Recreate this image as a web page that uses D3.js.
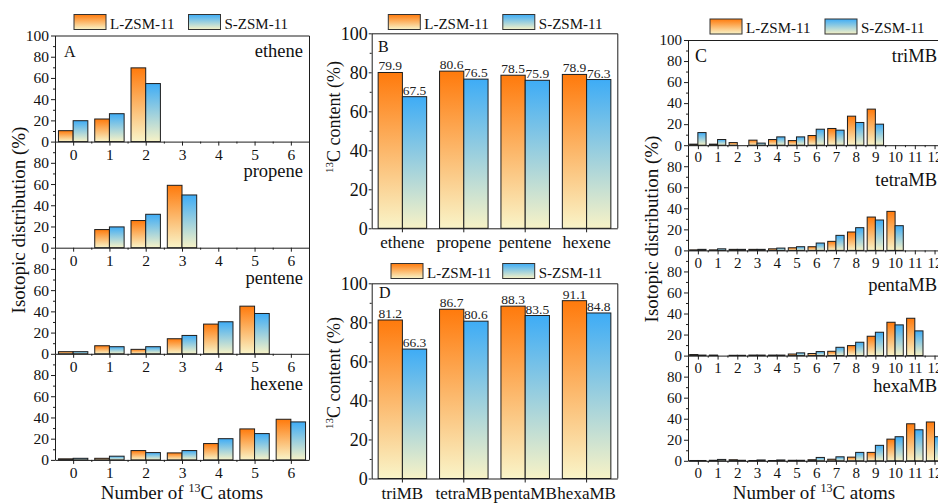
<!DOCTYPE html>
<html>
<head>
<meta charset="utf-8">
<script src="https://cdn.jsdelivr.net/npm/d3@7"></script>
<style>
  body { margin: 0; background: #fff; overflow: hidden; }
  svg { display: block; font-family: "Liberation Serif", "Times New Roman", serif; }
</style>
</head>
<body>
<svg id="fig" width="938" height="503"></svg>
<script>
// ---------- data ----------
const seriesNames = ["L-ZSM-11", "S-ZSM-11"];

// Panel A: isotopic distribution of light olefins (% vs number of 13C atoms)
const olefinNames = ["ethene", "propene", "pentene", "hexene"];
const olefinAtoms = [0, 1, 2, 3, 4, 5, 6];
const etheneL  = [10.3, 21.3, 69.5, 0, 0, 0, 0];
const etheneS  = [19.7, 26.3, 54.7, 0, 0, 0, 0];
const propeneL = [0, 17.1, 25.6, 58.8, 0, 0, 0];
const propeneS = [0, 19.6, 31.5, 49.7, 0, 0, 0];
const penteneL = [2.0, 7.6, 4.2, 14.2, 28.0, 44.9, 0];
const penteneS = [2.0, 6.7, 6.7, 17.3, 30.2, 38.0, 0];
const hexeneL  = [1.0, 1.5, 8.8, 6.6, 15.4, 29.2, 38.3];
const hexeneS  = [1.5, 3.5, 6.9, 8.8, 20.0, 24.8, 35.8];

// Panel B: 13C content of olefins (%)
const olefinContentL = [79.9, 80.6, 78.5, 78.9];
const olefinContentS = [67.5, 76.5, 75.9, 76.3];

// Panel C: isotopic distribution of methylbenzenes
const mbNames = ["triMB", "tetraMB", "pentaMB", "hexaMB"];
const mbAtoms = [0, 1, 2, 3, 4, 5, 6, 7, 8, 9, 10, 11, 12];
const triMBL   = [1.0, 1.0, 2.5, 4.8, 5.4, 4.4, 9.2, 15.9, 27.6, 34.3, 0, 0, 0];
const triMBS   = [12.0, 5.4, 0, 2.0, 7.9, 7.9, 15.2, 14.3, 21.6, 20.0, 0, 0, 0];
const tetraMBL = [0.5, 0.5, 1.0, 1.0, 1.5, 2.5, 3.5, 8.6, 17.5, 31.7, 37.1, 0, 0];
const tetraMBS = [1.0, 1.5, 1.0, 1.0, 2.2, 3.5, 7.0, 14.3, 21.6, 28.9, 23.5, 0, 0];
const pentaMBL = [1.0, 0.5, 0.3, 0.5, 0.5, 1.5, 2.0, 4.1, 9.5, 18.4, 31.7, 35.5, 0];
const pentaMBS = [0.5, 0, 0.3, 0.5, 0.5, 2.6, 3.8, 7.9, 12.7, 22.2, 29.2, 23.5, 0];
const hexaMBL  = [0.3, 0.5, 1.0, 0.3, 0.3, 0.5, 1.0, 1.5, 3.5, 8.0, 20.6, 35.2, 36.9];
const hexaMBS  = [0.3, 1.3, 0.5, 0.8, 0.8, 0.5, 3.2, 3.8, 8.0, 14.7, 22.9, 29.5, 22.9];

// Panel D: 13C content of methylbenzenes (%)
const mbContentL = [81.2, 86.7, 88.3, 91.1];
const mbContentS = [66.3, 80.6, 83.5, 84.8];

// ---------- styles ----------
const INK = "#1e1e1e";
const gradColors = {
  "L-ZSM-11": [["0%", "#ff7a0c"], ["100%", "#f9f4c8"]],
  "S-ZSM-11": [["0%", "#3eacf6"], ["100%", "#f7f2c6"]]
};
const gradId = s => s === "L-ZSM-11" ? "gradL" : "gradS";

const svg = d3.select("#fig");
const defs = svg.append("defs");
seriesNames.forEach(s => {
  const g = defs.append("linearGradient").attr("id", gradId(s))
    .attr("x1", 0).attr("y1", 0).attr("x2", 0).attr("y2", 1);
  gradColors[s].forEach(([o, c]) => g.append("stop").attr("offset", o).attr("stop-color", c));
});

function styleAxis(g, fontSize) {
  g.attr("font-family", null).attr("font-size", fontSize);
  g.selectAll("path, line").attr("stroke", INK).attr("stroke-width", 1);
  g.selectAll("text").attr("fill", "#111");
}

function legend(x0, y0, gap) {
  const g = svg.append("g");
  seriesNames.forEach((s, i) => {
    const x = x0 + i * gap;
    g.append("rect").attr("x", x).attr("y", y0).attr("width", 32).attr("height", 15)
      .attr("fill", `url(#${gradId(s)})`).attr("stroke", "#333").attr("stroke-width", 1);
    g.append("text").attr("x", x + 36).attr("y", y0 + 14).attr("font-size", 15)
      .attr("fill", "#111").text(s);
  });
}

// Stacked isotopic-distribution panels (A and C)
function drawStack(cfg) {
  const x = d3.scaleLinear().domain([-0.5, cfg.atoms.length - 0.5]).range([cfg.left, cfg.right]);
  const step = x(1) - x(0);
  const pairW = step * cfg.pairFrac;
  const inner = d3.scaleBand().domain(seriesNames).range([-pairW / 2, pairW / 2]);
  const root = svg.append("g");

  cfg.groups.forEach((grp, i) => {
    const top = cfg.top + i * cfg.subH;
    const bottom = top + cfg.subH;
    const y = d3.scaleLinear().domain([0, 100]).range([bottom, top]);
    const g = root.append("g");

    const rows = [];
    seriesNames.forEach((s, k) => grp.values[k].forEach((v, j) => {
      if (v > 0) rows.push({ s, atom: cfg.atoms[j], v });
    }));
    g.selectAll("rect.bar").data(rows).join("rect").attr("class", "bar")
      .attr("x", d => x(d.atom) + inner(d.s))
      .attr("width", inner.bandwidth())
      .attr("y", d => y(d.v))
      .attr("height", d => y(0) - y(d.v))
      .attr("fill", d => `url(#${gradId(d.s)})`)
      .attr("stroke", INK).attr("stroke-width", 1);

    // x axis on each zero line
    const xa = g.append("g").attr("transform", `translate(0,${bottom})`)
      .call(d3.axisBottom(x).tickValues(cfg.atoms).tickFormat(d3.format("d"))
        .tickSize(4).tickSizeOuter(0).tickPadding(cfg.xPad));
    styleAxis(xa, cfg.tickFont);
    const xm = g.append("g").attr("transform", `translate(0,${bottom})`)
      .call(d3.axisBottom(x).tickValues(cfg.atoms.slice(0, -1).map(a => a + 0.5))
        .tickFormat("").tickSize(2).tickSizeOuter(0));
    xm.select(".domain").remove();
    styleAxis(xm, cfg.tickFont);

    // y axis
    const major = i === 0 ? [0, 20, 40, 60, 80, 100] : [0, 20, 40, 60, 80];
    const ya = g.append("g").attr("transform", `translate(${cfg.left},0)`)
      .call(d3.axisLeft(y).tickValues(major).tickSize(4).tickSizeOuter(0).tickPadding(2));
    styleAxis(ya, cfg.tickFont);
    const ym = g.append("g").attr("transform", `translate(${cfg.left},0)`)
      .call(d3.axisLeft(y).tickValues([10, 30, 50, 70, 90]).tickFormat("").tickSize(2));
    ym.select(".domain").remove();
    styleAxis(ym, cfg.tickFont);

    g.append("text").attr("x", cfg.nameX).attr("y", y(cfg.nameAt[i]))
      .attr("text-anchor", "end").attr("font-size", cfg.nameFont).attr("fill", "#111")
      .text(grp.name);
  });

  // frame: top and right edges
  const bottomAll = cfg.top + cfg.groups.length * cfg.subH;
  root.append("path")
    .attr("d", `M${cfg.left},${cfg.top + 0.5}H${cfg.right + 0.5}V${bottomAll}`)
    .attr("fill", "none").attr("stroke", INK).attr("stroke-width", 1);

  root.append("text").attr("x", cfg.letterX).attr("y", cfg.letterY)
    .attr("font-size", cfg.letterFont).attr("fill", "#111").text(cfg.letter);

  // axis titles
  root.append("text")
    .attr("transform", `translate(${cfg.yTitleX},${cfg.yTitleY}) rotate(-90)`)
    .attr("text-anchor", "middle").attr("font-size", 19).attr("fill", "#111")
    .text("Isotopic distribution (%)");
  const xt = root.append("text").attr("x", cfg.xTitleX).attr("y", cfg.xTitleY)
    .attr("text-anchor", "middle").attr("font-size", 19).attr("fill", "#111");
  xt.append("tspan").text("Number of ");
  xt.append("tspan").attr("font-size", 12).attr("dy", -7).text("13");
  xt.append("tspan").attr("dy", 7).text("C atoms");
}

// 13C content bar panels (B and D)
function drawContent(cfg) {
  const x = d3.scaleBand().domain(cfg.cats).range([cfg.left, cfg.right]);
  const pairW = x.bandwidth() * 0.79;
  const inner = d3.scaleBand().domain(seriesNames).range([0, pairW]);
  const y = d3.scaleLinear().domain([0, 100]).range([cfg.bottom, cfg.top]);
  const g = svg.append("g");

  const rows = [];
  seriesNames.forEach((s, k) => cfg.values[k].forEach((v, j) => rows.push({ s, c: cfg.cats[j], v })));
  const bx = d => x(d.c) + (x.bandwidth() - pairW) / 2 + inner(d.s);

  g.selectAll("rect.bar").data(rows).join("rect").attr("class", "bar")
    .attr("x", bx).attr("width", inner.bandwidth())
    .attr("y", d => y(d.v)).attr("height", d => y(0) - y(d.v))
    .attr("fill", d => `url(#${gradId(d.s)})`)
    .attr("stroke", INK).attr("stroke-width", 1);

  g.selectAll("text.val").data(rows).join("text").attr("class", "val")
    .attr("x", d => bx(d) + inner.bandwidth() / 2)
    .attr("y", d => y(d.v) - 2)
    .attr("text-anchor", "middle").attr("font-size", 13.5).attr("fill", "#222")
    .text(d => d3.format(".1f")(d.v));

  const xa = g.append("g").attr("transform", `translate(0,${cfg.bottom})`)
    .call(d3.axisBottom(x).tickSize(4).tickSizeOuter(0).tickPadding(cfg.xPad));
  styleAxis(xa, 17);

  const ya = g.append("g").attr("transform", `translate(${cfg.left},0)`)
    .call(d3.axisLeft(y).tickValues([0, 20, 40, 60, 80, 100]).tickSize(3).tickSizeOuter(0).tickPadding(1));
  styleAxis(ya, 18);
  const ym = g.append("g").attr("transform", `translate(${cfg.left},0)`)
    .call(d3.axisLeft(y).tickValues([10, 30, 50, 70, 90]).tickFormat("").tickSize(2));
  ym.select(".domain").remove();
  styleAxis(ym, 18);

  g.append("path")
    .attr("d", `M${cfg.left},${cfg.top + 0.5}H${cfg.right + 0.5}V${cfg.bottom}`)
    .attr("fill", "none").attr("stroke", INK).attr("stroke-width", 1);

  g.append("text").attr("x", cfg.letterX).attr("y", cfg.letterY)
    .attr("font-size", 16).attr("fill", "#111").text(cfg.letter);

  const yt = g.append("text")
    .attr("transform", `translate(340,${cfg.yTitleY}) rotate(-90)`)
    .attr("text-anchor", "middle").attr("font-size", 18).attr("fill", "#111");
  yt.append("tspan").attr("font-size", 11).attr("dy", -7).text("13");
  yt.append("tspan").attr("dy", 7).text("C content (%)");
}

// ---------- panels ----------
drawStack({
  atoms: olefinAtoms, left: 55, right: 309, top: 35.5, subH: 106.1, pairFrac: 0.81,
  groups: [
    { name: olefinNames[0], values: [etheneL, etheneS] },
    { name: olefinNames[1], values: [propeneL, propeneS] },
    { name: olefinNames[2], values: [penteneL, penteneS] },
    { name: olefinNames[3], values: [hexeneL, hexeneS] }
  ],
  nameAt: [80, 67, 66, 66], nameX: 303, nameFont: 18.5,
  tickFont: 15.5, xPad: 3.3,
  letter: "A", letterX: 64, letterY: 56.5, letterFont: 16,
  yTitleX: 25, yTitleY: 220, xTitleX: 182, xTitleY: 499
});
legend(74, 14.5, 114.5);

drawContent({
  cats: olefinNames, values: [olefinContentL, olefinContentS],
  left: 371.7, right: 617.3, top: 33.3, bottom: 228.3, xPad: 4,
  letter: "B", letterX: 378, letterY: 52, yTitleY: 117
});
legend(388.3, 14.5, 114.5);

drawStack({
  atoms: mbAtoms, left: 688, right: 944.4, top: 40, subH: 105.2, pairFrac: 0.83,
  groups: [
    { name: mbNames[0], values: [triMBL, triMBS] },
    { name: mbNames[1], values: [tetraMBL, tetraMBS] },
    { name: mbNames[2], values: [pentaMBL, pentaMBS] },
    { name: mbNames[3], values: [hexaMBL, hexaMBS] }
  ],
  nameAt: [79, 61, 61, 65.5], nameX: 937, nameFont: 18.5,
  tickFont: 15, xPad: 2.6,
  letter: "C", letterX: 695, letterY: 62, letterFont: 18,
  yTitleX: 658, yTitleY: 229, xTitleX: 814, xTitleY: 498.5
});
legend(710, 19, 115);

drawContent({
  cats: mbNames, values: [mbContentL, mbContentS],
  left: 371.7, right: 617.3, top: 283.3, bottom: 478.5, xPad: 4.5,
  letter: "D", letterX: 379, letterY: 298, yTitleY: 373
});
legend(391, 263.5, 111.7);
</script>
</body>
</html>
